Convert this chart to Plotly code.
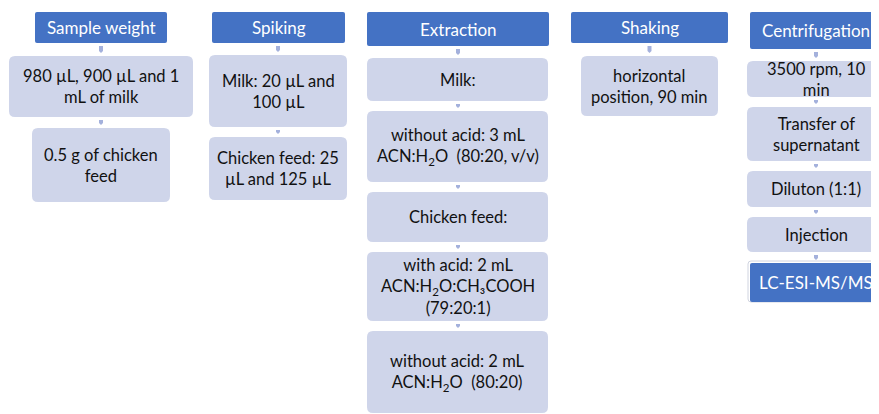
import plotly.graph_objects as go

# ---- content ----
headers = ["Sample weight", "Spiking", "Extraction", "Shaking", "Centrifugation"]
steps = [
    ["980 µL, 900 µL and 1<br>mL of milk", "0.5 g of chicken<br>feed"],
    ["Milk: 20 µL and<br>100 µL", "Chicken feed: 25<br>µL and 125 µL"],
    ["Milk:",
     "without acid: 3 mL<br>ACN:H<sub>2</sub>O  (80:20, v/v)",
     "Chicken feed:",
     "with acid: 2 mL<br>ACN:H<sub>2</sub>O:CH₃COOH<br>(79:20:1)",
     "without acid: 2 mL<br>ACN:H<sub>2</sub>O  (80:20)"],
    ["horizontal<br>position, 90 min"],
    ["3500 rpm, 10<br>min", "Transfer of<br>supernatant", "Diluton (1:1)", "Injection"],
]
final_step = "LC-ESI-MS/MS"

# ---- geometry (page pixels) ----
col_center = [101, 278, 458, 649.5, 816]
header_x = [(35, 167), (212, 345), (367, 549), (571, 728), (750, 882)]
header_y = [(12, 43), (12, 43), (12, 46), (12, 43), (12, 49)]
box_x = [
    [(9, 193), (32, 170)],
    [(209, 347), (209, 347)],
    [(367, 548)] * 5,
    [(581, 718)],
    [(747, 885)] * 4,
]
box_y = [
    [(56, 117), (128, 202)],
    [(55, 127), (137, 200)],
    [(58, 101), (111, 182), (192, 242), (252, 321), (331, 413)],
    [(56, 116)],
    [(61, 97), (107, 161), (171, 207), (217, 252)],
]
final_x = (750, 882)
final_y = (263, 302)

DARK = "#4472C4"
LIGHT = "#CFD5EA"
CONN = "#A4B1DC"
FONT = "Lato"
OFF = 8  # page body margin
W = 879 - OFF
H = 414 - OFF


def rrect(x0, x1, y0, y1, r):
    return (f"M{x0+r},{y0} L{x1-r},{y0} Q{x1},{y0} {x1},{y0+r} "
            f"L{x1},{y1-r} Q{x1},{y1} {x1-r},{y1} L{x0+r},{y1} "
            f"Q{x0},{y1} {x0},{y1-r} L{x0},{y0+r} Q{x0},{y0} {x0+r},{y0} Z")


fig = go.Figure()
shapes = []
annotations = []


def add_box(xr, yr, text, dark):
    shapes.append(dict(type="path", xref="x", yref="y",
                       path=rrect(xr[0], xr[1], yr[0], yr[1], 2 if dark else 6),
                       fillcolor=DARK if dark else LIGHT, line=dict(width=0),
                       layer="below"))
    annotations.append(dict(x=(xr[0] + xr[1]) / 2, y=(yr[0] + yr[1]) / 2,
                            xref="x", yref="y", text=text, showarrow=False,
                            xanchor="center", yanchor="middle", align="center",
                            font=dict(family=FONT, size=17 if dark else 16.5,
                                      color="white" if dark else "#111111")))


def add_conn(cx, ytop, ybot):
    a = ytop + 3
    b = ybot - 3
    shapes.append(dict(type="rect", xref="x", yref="y", x0=cx - 2, x1=cx + 2,
                       y0=a, y1=b - 2, fillcolor=CONN, line=dict(width=0)))
    shapes.append(dict(type="path", xref="x", yref="y",
                       path=f"M{cx-2},{b-2} L{cx+2},{b-2} L{cx},{b} Z",
                       fillcolor=CONN, line=dict(width=0)))


for i, h in enumerate(headers):
    add_box(header_x[i], header_y[i], h, True)
    prev_bottom = header_y[i][1]
    for j, s in enumerate(steps[i]):
        add_conn(col_center[i], prev_bottom, box_y[i][j][0])
        add_box(box_x[i][j], box_y[i][j], s, False)
        prev_bottom = box_y[i][j][1]

# final result box
add_conn(col_center[4], box_y[4][-1][1], final_y[0])
shapes.append(dict(type="path", xref="x", yref="y",
                   path=rrect(final_x[0] - 2, final_x[1] + 2, final_y[0] - 2, final_y[1], 3),
                   fillcolor="white", line=dict(color="#D0D4E0", width=1), layer="below"))
add_box(final_x, final_y, final_step, True)

fig.add_trace(go.Scatter(x=[OFF, 879], y=[OFF, OFF + H], mode="markers",
                         marker=dict(opacity=0), hoverinfo="skip", showlegend=False))

fig.update_layout(
    width=W, height=H,
    margin=dict(l=0, r=0, t=0, b=0),
    paper_bgcolor="white", plot_bgcolor="white",
    xaxis=dict(range=[OFF, OFF + W], visible=False, fixedrange=True),
    yaxis=dict(range=[OFF + H, OFF], visible=False, fixedrange=True),
    shapes=shapes, annotations=annotations, showlegend=False,
)

fig.write_html("out.html")
